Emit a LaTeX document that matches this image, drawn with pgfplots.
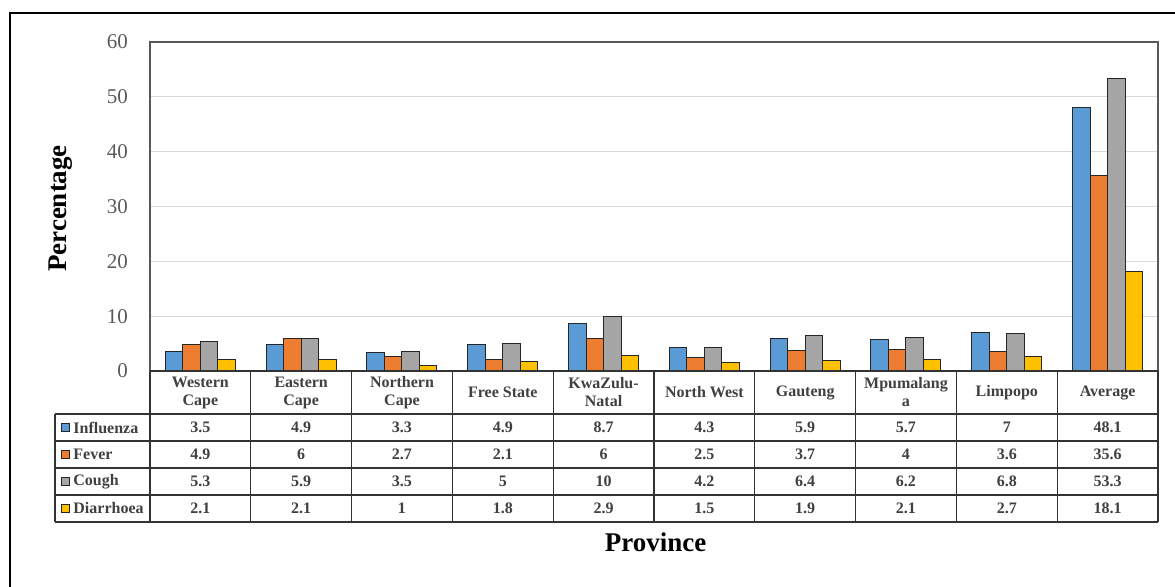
\documentclass[border=0pt]{standalone}
\usepackage{fontspec}
\setmainfont{Liberation Serif}
\usepackage{pgfplots}
\usepackage{pgfplotstable}
\pgfplotsset{compat=1.18}

\definecolor{flu}{HTML}{5B9BD5}
\definecolor{fev}{HTML}{ED7D31}
\definecolor{cgh}{HTML}{A5A5A5}
\definecolor{dia}{HTML}{FFC000}
\definecolor{tickc}{HTML}{595959}
\definecolor{tabtext}{HTML}{404040}
\definecolor{gridc}{HTML}{D9D9D9}

% Percentage of respondents reporting each symptom, by province
\pgfplotstableread{
idx Influenza Fever Cough Diarrhoea
0   3.5   4.9   5.3   2.1
1   4.9   6     5.9   2.1
2   3.3   2.7   3.5   1
3   4.9   2.1   5     1.8
4   8.7   6     10    2.9
5   4.3   2.5   4.2   1.5
6   5.9   3.7   6.4   1.9
7   5.7   4     6.2   2.1
8   7     3.6   6.8   2.7
9   48.1  35.6  53.3  18.1
}\symptoms

\newcommand{\tabfont}{\fontsize{8}{9}\selectfont\bfseries}

\begin{document}
\begin{tikzpicture}
\useasboundingbox (-75pt,-107.5pt) rectangle (512.5pt,185.5pt);
% outer frame
\draw[line width=1.1pt] (-70pt,-130pt) -- (-70pt,179pt) -- (540pt,179pt);

\begin{axis}[
  at={(0pt,0pt)}, anchor=south west, scale only axis,
  width=504pt, height=164.5pt,
  xmin=-0.5, xmax=9.5, ymin=0, ymax=60,
  ybar=0pt, bar width=8.75pt,
  ytick={0,10,...,60},
  ymajorgrids, grid style={gridc, line width=0.5pt},
  major tick length=0pt,
  axis line style={tickc, line width=0.6pt},
  /pgf/number format/assume math mode=true,
  yticklabel style={font=\fontsize{10.5}{12}\selectfont, text=tickc, anchor=east, xshift=-7.5pt},
  xtick={0,...,9},
  xticklabels={{Western\\Cape},{Eastern\\Cape},{Northern\\Cape},{Free State},{KwaZulu-\\Natal},{North West},{Gauteng},{Mpumalang\\a},{Limpopo},{Average}},
  xticklabel style={anchor=center, yshift=-10.75pt, align=center, font=\tabfont, text=tabtext},
  every axis plot/.append style={draw=black!85, line width=0.5pt},
]
\addplot[fill=flu] table[x=idx, y=Influenza]{\symptoms};
\addplot[fill=fev] table[x=idx, y=Fever]{\symptoms};
\addplot[fill=cgh] table[x=idx, y=Cough]{\symptoms};
\addplot[fill=dia] table[x=idx, y=Diarrhoea]{\symptoms};
\end{axis}

% data table values
\begin{axis}[
  at={(0pt,0pt)}, anchor=south west, scale only axis,
  width=504pt, height=164.5pt,
  xmin=-0.5, xmax=9.5, ymin=0, ymax=60,
  hide axis, clip=false,
  nodes near coords, point meta=explicit symbolic,
  nodes near coords align=center,
  every node near coord/.append style={font=\tabfont, text=tabtext, anchor=center},
]
\addplot[draw=none, mark=none, every node near coord/.append style={yshift=-28.25pt}] table[x=idx, y expr=0, meta=Influenza]{\symptoms};
\addplot[draw=none, mark=none, every node near coord/.append style={yshift=-41.75pt}] table[x=idx, y expr=0, meta=Fever]{\symptoms};
\addplot[draw=none, mark=none, every node near coord/.append style={yshift=-55.25pt}] table[x=idx, y expr=0, meta=Cough]{\symptoms};
\addplot[draw=none, mark=none, every node near coord/.append style={yshift=-68.75pt}] table[x=idx, y expr=0, meta=Diarrhoea]{\symptoms};
\end{axis}

% table rules
\begin{scope}[draw=black!80, line width=0.6pt]
  \draw (0pt,0pt) -- (504pt,0pt);
  \foreach \yy in {-21.5,-35,-48.5,-62,-75.5}
    \draw (-47.5pt,\yy pt) -- (504pt,\yy pt);
  \foreach \k in {0,...,10}
    \draw (\k*50.4pt,0pt) -- (\k*50.4pt,-75.5pt);
  \draw (-47.5pt,-21.5pt) -- (-47.5pt,-75.5pt);
\end{scope}

% row legend
\foreach \c/\name/\yy in {flu/Influenza/-28.25, fev/Fever/-41.75, cgh/Cough/-55.25, dia/Diarrhoea/-68.75}{
  \draw[fill=\c, draw=black!85, line width=0.5pt] (-44pt,\yy pt-2pt) rectangle (-40pt,\yy pt+2pt);
  \node[anchor=west, inner sep=0pt, font=\tabfont, text=tabtext] at (-38.5pt,\yy pt) {\name};
}

\node[rotate=90, font=\fontsize{13.5}{16}\selectfont\bfseries] at (-44.5pt,81.25pt) {Percentage};
\node[font=\fontsize{13.5}{16}\selectfont\bfseries] at (252.75pt,-85.5pt) {Province};
\end{tikzpicture}
\end{document}
